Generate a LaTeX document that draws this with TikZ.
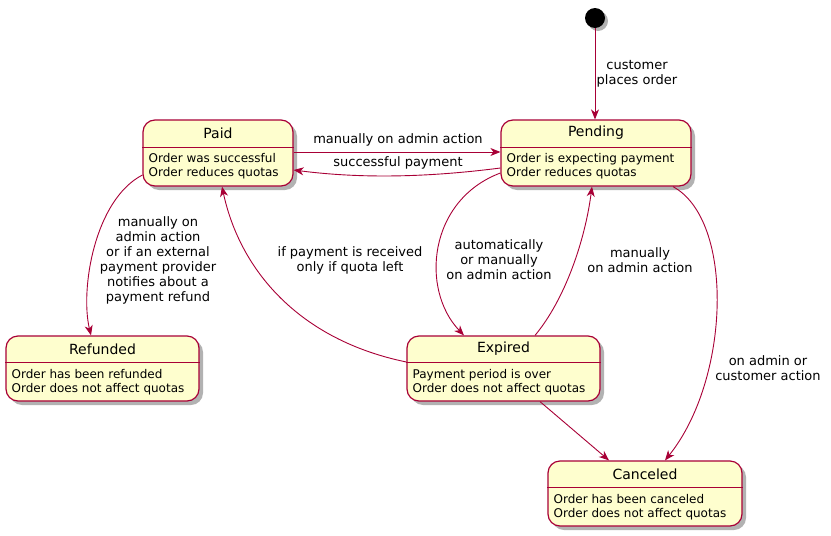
\documentclass[tikz,border=0pt]{standalone}
\usepackage{fontspec}
\setmainfont{DejaVu Sans}
\usepackage{tikz}
\usetikzlibrary{arrows.meta,calc,shadows}
\definecolor{umlborder}{HTML}{A80036}
\definecolor{umlfill}{HTML}{FEFECE}

\begin{document}
\begin{tikzpicture}[
        x=1pt,y=-1pt,
        state/.style={draw=umlborder,line width=1.2pt,fill=umlfill,rounded corners=12pt,
                  minimum height=66pt,inner sep=0pt,
                  drop shadow={shadow xshift=4pt,shadow yshift=-4pt,fill=black,opacity=0.3}},
        title/.style={inner sep=0pt,font=\fontsize{14}{16}\selectfont},
        desc/.style={inner sep=0pt,anchor=north west,align=left,font=\fontsize{12}{14}\selectfont},
        sep/.style={umlborder,line width=1pt},
        lbl/.style={inner sep=0pt,align=center,font=\fontsize{13}{15}\selectfont},
        tr/.style={umlborder,line width=0.9pt,-{Stealth[length=10pt,width=8pt,inset=3pt]}}
      ]
        \useasboundingbox (0,0) rectangle (831,536);
        % states
        \node[circle,fill=black,minimum size=20pt,inner sep=0pt,
              drop shadow={shadow xshift=3pt,shadow yshift=-3pt,fill=black,opacity=0.3}] (init) at (595,18) {};
        \node[state,minimum width=150pt] (paid) at (218,153) {};
        \node[state,minimum width=190pt] (pending) at (596,153) {};
        \node[state,minimum width=193pt,minimum height=65pt] (refunded) at (102.5,368.5) {};
        \node[state,minimum width=193pt,minimum height=65pt] (expired) at (503.5,368.5) {};
        \node[state,minimum width=194pt,minimum height=65pt] (canceled) at (645,493.5) {};

        \node[title] (paidT) at ($(paid.north)+(0,13.5)$) {Paid};
        \draw[sep] ($(paid.west)+(0,-6)$) -- ($(paid.east)+(0,-6)$);
        \node[desc] (paidD) at ($(paid.north west)+(6,33.5)$) {Order was successful\\Order reduces quotas};

        \node[title] (pendingT) at ($(pending.north)+(0,13.5)$) {Pending};
        \draw[sep] ($(pending.west)+(0,-6)$) -- ($(pending.east)+(0,-6)$);
        \node[desc] (pendingD) at ($(pending.north west)+(6,33.5)$) {Order is expecting payment\\Order reduces quotas};

        \node[title] (refundedT) at ($(refunded.north)+(0,13.5)$) {Refunded};
        \draw[sep] ($(refunded.west)+(0,-6.5)$) -- ($(refunded.east)+(0,-6.5)$);
        \node[desc] (refundedD) at ($(refunded.north west)+(6,33.5)$) {Order has been refunded\\Order does not affect quotas};

        \node[title] (expiredT) at ($(expired.north)+(0,13.5)$) {Expired};
        \draw[sep] ($(expired.west)+(0,-6.5)$) -- ($(expired.east)+(0,-6.5)$);
        \node[desc] (expiredD) at ($(expired.north west)+(6,33.5)$) {Payment period is over\\Order does not affect quotas};

        \node[title] (canceledT) at ($(canceled.north)+(0,13.5)$) {Canceled};
        \draw[sep] ($(canceled.west)+(0,-6.5)$) -- ($(canceled.east)+(0,-6.5)$);
        \node[desc] (canceledD) at ($(canceled.north west)+(6,33.5)$) {Order has been canceled\\Order does not affect quotas};

        % transitions
        \draw[tr] (init) -- (init |- pending.north);
        \draw[tr] ([yshift=1pt]paid.east) -- ([yshift=1pt]pending.west);
        \draw[tr] ([yshift=-15pt]pending.west) .. controls +(-70,9) and +(70,9) .. ([yshift=-17pt]paid.east);
        \draw[tr] ([yshift=-22pt]paid.west) .. controls +(-48,25) and +(-11,-46) .. ([xshift=-11.5pt]refunded.north);
        \draw[tr] ([yshift=-20pt]pending.west) .. controls +(-72,27) and +(-44,-46) .. ([xshift=-39.5pt]expired.north);
        \draw[tr] ([xshift=31.5pt]expired.north) .. controls +(30,-36) and +(-7,54) .. ([xshift=-4pt]pending.south);
        \draw[tr] ([yshift=6.5pt]expired.west) .. controls +(-107,-22) and +(18,84) .. ([xshift=4pt]paid.south);
        \draw[tr] ([xshift=77pt]pending.south) .. controls +(62,34) and +(65,-81) .. ([xshift=20pt]canceled.north);
        \draw[tr] ([xshift=36.5pt]expired.south) -- ([xshift=-36pt]canceled.north);

        % labels
        \node[lbl] (lblInit) at (637,74) {customer\\places order};
        \node[lbl] (lblManual) at (398,140) {manually on admin action};
        \node[lbl] (lblPay) at (398,163) {successful payment};
        \node[lbl] (lblRefund) at (158,260) {manually on\\admin action\\or if an external\\payment provider\\notifies about a\\payment refund};
        \node[lbl] (lblExpire) at (499,260) {automatically\\or manually\\on admin action};
        \node[lbl] (lblReceived) at (350,260) {if payment is received\\only if quota left};
        \node[lbl] (lblReopen) at (640,260) {manually\\on admin action};
        \node[lbl] (lblCancel) at (768,368) {on admin or\\customer action};
      \end{tikzpicture}
\end{document}
